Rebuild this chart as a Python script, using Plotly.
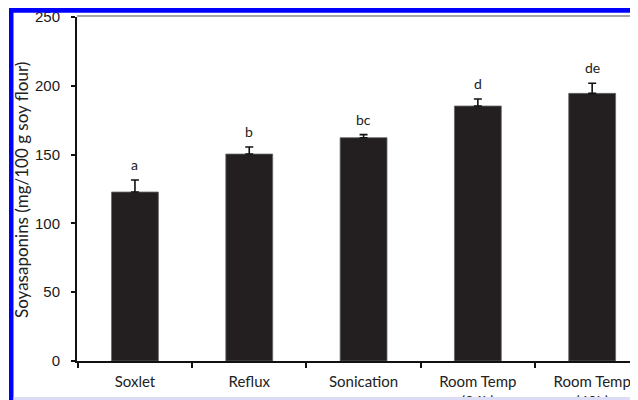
import plotly.graph_objects as go

categories = ["Soxlet", "Reflux", "Sonication", "Room Temp<br>(24h)", "Room Temp<br>(48h)"]
means = [122.8, 150.4, 162.3, 185.3, 194.5]
errors = [8.7, 5.1, 2.2, 5.1, 7.3]
letters = ["a", "b", "bc", "d", "de"]
y_ticks = [0, 50, 100, 150, 200, 250]

# the page body has an 8px default margin; the figure is sized to fit the 638x400 window
OFF = 8
W, H = 638 - OFF, 400 - OFF
L, R, T, B = 77 - OFF, 0, 17 - OFF, 39
PW, PH = W - L - R, H - T - B


def xp(px):
    # page pixel -> paper x
    return (px - OFF - L) / PW


def yp(py):
    # page pixel -> paper y
    return (H - B - (py - OFF)) / PH


fig = go.Figure()
fig.add_trace(go.Bar(
    x=categories, y=means, width=0.41,
    marker=dict(color="#231f20", line=dict(color="#666666", width=0.8)),
    error_y=dict(type="data", array=errors, arrayminus=[0] * len(errors), symmetric=False,
                 color="#111111", thickness=1.6, width=4),
    showlegend=False,
))

annotations = []
for c, m, e, t in zip(categories, means, errors, letters):
    annotations.append(dict(x=c, y=m + e, text=t, showarrow=False, xanchor="center",
                            yanchor="bottom", yshift=5,
                            font=dict(family="Lato", size=14, color="#222222")))
annotations.append(dict(xref="paper", yref="paper", x=xp(21), y=yp(190),
                        text="Soyasaponins (mg/100 g soy flour)", textangle=-90,
                        showarrow=False, xanchor="center", yanchor="middle",
                        font=dict(family="Lato", size=17, color="#222222")))

shapes = [
    # top frame line of plot
    dict(type="line", xref="paper", yref="paper", x0=0, x1=1.05, y0=yp(16), y1=yp(16),
         line=dict(color="#8a8a8a", width=1.5), layer="above"),
    # blue border left
    dict(type="rect", xref="paper", yref="paper", x0=xp(9), x1=xp(13.5), y0=yp(8), y1=yp(402),
         fillcolor="#0000ff", line=dict(width=0), layer="above"),
    # blue border top
    dict(type="rect", xref="paper", yref="paper", x0=xp(9), x1=xp(642), y0=yp(7.5), y1=yp(12.8),
         fillcolor="#0000ff", line=dict(width=0), layer="above"),
    # lavender strip bottom
    dict(type="rect", xref="paper", yref="paper", x0=xp(13.5), x1=xp(642), y0=yp(397), y1=yp(402),
         fillcolor="#dcdcf6", line=dict(width=0), layer="above"),
]

fig.update_layout(
    width=W, height=H,
    margin=dict(l=L, r=R, t=T, b=B, pad=0, autoexpand=False),
    paper_bgcolor="white", plot_bgcolor="white",
    annotations=annotations,
    shapes=shapes,
    xaxis=dict(type="category", range=[-0.507, 4.401], showline=True, linecolor="#111111",
               linewidth=2, ticks="outside", tickson="boundaries", ticklen=5, tickwidth=1.5,
               tickcolor="#111111", showgrid=False, ticklabelstandoff=6, automargin=False,
               tickfont=dict(family="Lato", size=15, color="#222222")),
    yaxis=dict(range=[0, 250], tickvals=y_ticks, showline=True, linecolor="#111111",
               linewidth=2, ticks="outside", ticklen=4, tickwidth=1.5, tickcolor="#111111",
               showgrid=False, zeroline=False, ticklabelstandoff=8, automargin=False,
               tickfont=dict(family="Liberation Sans", size=15, color="#1a1a1a")),
)

fig.write_html("out.html")
